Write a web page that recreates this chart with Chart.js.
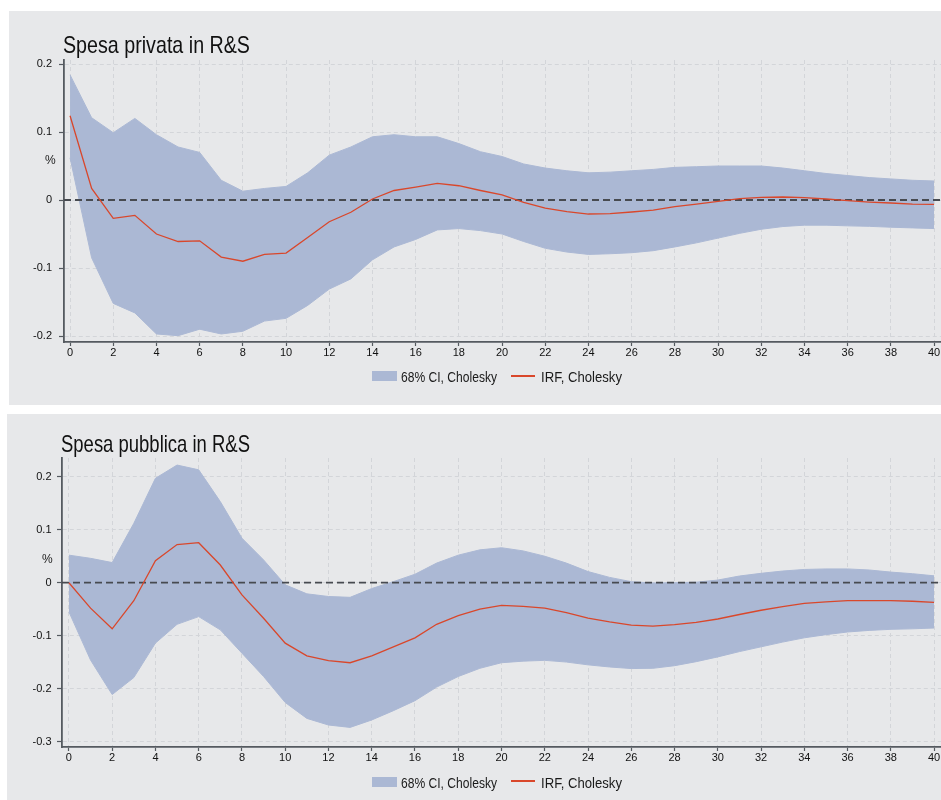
<!DOCTYPE html>
<html lang="it">
<head>
<meta charset="utf-8">
<title>IRF - Spesa in R&amp;S</title>
<script src="https://cdn.jsdelivr.net/npm/chart.js@4.4.1/dist/chart.umd.min.js"></script>
<style>
    html, body { margin: 0; padding: 0; background: #fff; }
    body { position: relative; width: 941px; height: 800px; overflow: hidden; font-family: "Liberation Sans", Arial, sans-serif; color: #111; }
    .panel { position: absolute; background: #e7e8ea; }
    .panel canvas { position: absolute; left: 0; top: 0; }
    .txt { position: absolute; white-space: nowrap; transform-origin: 0 0; }
    .title { font-size: 24px; line-height: 24px; color: #111; }
    .unit { font-size: 12px; line-height: 12px; color: #222; }
    .leg { font-size: 14.4px; line-height: 14px; color: #1a1a1a; }
    .leg-box { position: absolute; width: 25px; height: 10px; background: #abb8d4; }
    .leg-line { position: absolute; width: 24px; height: 1.5px; background: #d9472b; }
</style>
</head>
<body>

<div class="panel" id="panelPriv" style="left:9px; top:11px; width:932px; height:394px;">
    <canvas id="chartPriv" width="932" height="394"></canvas>
</div>
<div class="panel" id="panelPub" style="left:7px; top:414px; width:934px; height:386px;">
    <canvas id="chartPub" width="934" height="386"></canvas>
</div>

<!-- testi sovrapposti -->
<div class="txt title" data-fit="187" style="left:63px; top:33px;">Spesa privata in R&amp;S</div>
<div class="txt unit" style="left:45px; top:154px;">%</div>
<div class="leg-box" style="left:372px; top:371px;"></div>
<div class="txt leg" data-fit="96" style="left:401px; top:370px;">68% CI, Cholesky</div>
<div class="leg-line" style="left:511px; top:375px;"></div>
<div class="txt leg" data-fit="81" style="left:541px; top:370px;">IRF, Cholesky</div>

<div class="txt title" data-fit="189" style="left:61px; top:432px;">Spesa pubblica in R&amp;S</div>
<div class="txt unit" style="left:42px; top:553px;">%</div>
<div class="leg-box" style="left:372px; top:776.5px;"></div>
<div class="txt leg" data-fit="96" style="left:401px; top:775.5px;">68% CI, Cholesky</div>
<div class="leg-line" style="left:511px; top:780px;"></div>
<div class="txt leg" data-fit="81" style="left:541px; top:775.5px;">IRF, Cholesky</div>

<script>
// orizzonti (periodi)
const horizons = [0, 1, 2, 3, 4, 5, 6, 7, 8, 9, 10, 11, 12, 13, 14, 15, 16, 17, 18, 19, 20,
    21, 22, 23, 24, 25, 26, 27, 28, 29, 30, 31, 32, 33, 34, 35, 36, 37, 38, 39, 40];

// Spesa privata in R&S
const privUpper = [0.184, 0.121, 0.099, 0.120, 0.096, 0.078, 0.070, 0.029, 0.013, 0.017, 0.020,
    0.040, 0.066, 0.078, 0.093, 0.096, 0.093, 0.093, 0.083, 0.071, 0.064,
    0.053, 0.047, 0.043, 0.040, 0.041, 0.043, 0.045, 0.048, 0.049, 0.050,
    0.050, 0.050, 0.047, 0.043, 0.039, 0.036, 0.033, 0.031, 0.029, 0.028];
const privIrf = [0.124, 0.017, -0.027, -0.0225, -0.050, -0.061, -0.060, -0.084, -0.090, -0.080, -0.078,
    -0.055, -0.032, -0.018, 0.0015, 0.014, 0.019, 0.0245, 0.021, 0.014, 0.0074,
    -0.0034, -0.012, -0.017, -0.0206, -0.020, -0.0176, -0.015, -0.0098, -0.0059, -0.002,
    0.002, 0.004, 0.0044, 0.0034, 0.0015, -0.001, -0.003, -0.0044, -0.006, -0.0064];
const privLower = [0.062, -0.085, -0.152, -0.166, -0.197, -0.1995, -0.190, -0.197, -0.193, -0.178, -0.174,
    -0.155, -0.131, -0.116, -0.088, -0.069, -0.058, -0.044, -0.042, -0.045, -0.050,
    -0.061, -0.071, -0.0765, -0.080, -0.079, -0.0775, -0.0745, -0.069, -0.063, -0.056,
    -0.049, -0.043, -0.039, -0.037, -0.037, -0.038, -0.0387, -0.040, -0.041, -0.042];

// Spesa pubblica in R&S
const pubUpper = [0.052, 0.046, 0.038, 0.112, 0.197, 0.222, 0.213, 0.153, 0.084, 0.043, -0.004,
    -0.021, -0.026, -0.0276, -0.011, 0.002, 0.016, 0.037, 0.052, 0.062, 0.066,
    0.060, 0.050, 0.037, 0.021, 0.010, 0.002, -0.0006, 0.0, 0.001, 0.005,
    0.0126, 0.0177, 0.022, 0.025, 0.026, 0.026, 0.024, 0.020, 0.017, 0.013];
const pubIrf = [0, -0.048, -0.087, -0.034, 0.0415, 0.072, 0.0755, 0.0334, -0.023, -0.067, -0.114,
    -0.138, -0.147, -0.151, -0.138, -0.121, -0.104, -0.0785, -0.062, -0.050, -0.0427,
    -0.0445, -0.048, -0.0566, -0.067, -0.074, -0.080, -0.082, -0.079, -0.075, -0.0685,
    -0.060, -0.052, -0.045, -0.039, -0.036, -0.034, -0.034, -0.034, -0.035, -0.037];
const pubLower = [-0.055, -0.146, -0.211, -0.179, -0.114, -0.0785, -0.064, -0.089, -0.133, -0.177, -0.226,
    -0.256, -0.2685, -0.273, -0.259, -0.2415, -0.2226, -0.197, -0.177, -0.1615, -0.151,
    -0.148, -0.1465, -0.1497, -0.155, -0.159, -0.162, -0.1615, -0.1566, -0.149, -0.140,
    -0.130, -0.121, -0.112, -0.104, -0.098, -0.093, -0.090, -0.088, -0.087, -0.0855];

// etichette degli assi
const xTicks = [0, 2, 4, 6, 8, 10, 12, 14, 16, 18, 20, 22, 24, 26, 28, 30, 32, 34, 36, 38, 40];
const privYTicks = [-0.2, -0.1, 0, 0.1, 0.2];
const pubYTicks = [-0.3, -0.2, -0.1, 0, 0.1, 0.2];

const BAND = '#abb8d4';
const IRF_RED = '#d9472b';
const AXIS = '#555a60';
const GRID = '#d3d5d9';
const TICK_FONT = { family: '"Liberation Sans", Arial, sans-serif', size: 11 };

// linea tratteggiata sullo zero, tra la banda e la IRF
const zeroLine = {
    id: 'zeroLine',
    afterDatasetDraw(chart, args) {
        if (args.index !== 1) return;
        const { ctx, chartArea } = chart;
        const y = chart.scales.y.getPixelForValue(0);
        ctx.save();
        ctx.strokeStyle = '#474a50';
        ctx.lineWidth = 1.8;
        ctx.setLineDash([7, 4]);
        ctx.beginPath();
        ctx.moveTo(chartArea.left, y);
        ctx.lineTo(chartArea.right, y);
        ctx.stroke();
        ctx.restore();
    }
};

function toPoints(values) {
    return values.map((v, i) => ({ x: horizons[i], y: v }));
}

function buildChart(canvasId, cfg) {
    const ctx = document.getElementById(canvasId).getContext('2d');
    return new Chart(ctx, {
        type: 'line',
        data: {
            datasets: [
                {
                    label: '68% CI, Cholesky',
                    data: toPoints(cfg.upper),
                    borderColor: BAND,
                    borderWidth: 1,
                    backgroundColor: BAND,
                    fill: '+1',
                    pointRadius: 0,
                    tension: 0,
                    order: 2
                },
                {
                    label: 'lower',
                    data: toPoints(cfg.lower),
                    borderColor: BAND,
                    borderWidth: 1,
                    fill: false,
                    pointRadius: 0,
                    tension: 0,
                    order: 1
                },
                {
                    label: 'IRF, Cholesky',
                    data: toPoints(cfg.irf),
                    borderColor: IRF_RED,
                    borderWidth: 1.3,
                    fill: false,
                    pointRadius: 0,
                    tension: 0,
                    order: 0
                }
            ]
        },
        options: {
            responsive: false,
            animation: false,
            events: [],
            layout: { padding: { left: 0, right: 0, top: cfg.top, bottom: 0 } },
            plugins: {
                legend: { display: false },
                tooltip: { enabled: false },
                title: { display: false }
            },
            scales: {
                x: {
                    type: 'linear',
                    min: cfg.xMin,
                    max: cfg.xMax,
                    afterBuildTicks: s => { s.ticks = xTicks.map(v => ({ value: v })); },
                    afterFit: s => { s.height = cfg.xAxisHeight; s.paddingLeft = 0; s.paddingRight = 0; },
                    grid: { color: GRID, lineWidth: 1, tickColor: AXIS, tickLength: 4, tickWidth: 1.2, tickBorderDash: [] },
                    border: { color: AXIS, width: 1.8, dash: [4, 3] },
                    ticks: { font: TICK_FONT, color: '#111', padding: 0, maxRotation: 0, autoSkip: false,
                        callback: v => String(v) }
                },
                y: {
                    type: 'linear',
                    min: cfg.yMin,
                    max: cfg.yMax,
                    afterBuildTicks: s => { s.ticks = cfg.yTicks.map(v => ({ value: v })); },
                    afterFit: s => { s.width = cfg.yAxisWidth; s.paddingTop = 0; s.paddingBottom = 0; },
                    grid: { color: GRID, lineWidth: 1, tickColor: AXIS, tickLength: 5, tickWidth: 1.2, tickBorderDash: [] },
                    border: { color: AXIS, width: 1.8, dash: [4, 3] },
                    ticks: { font: TICK_FONT, color: '#111', padding: cfg.yPad, autoSkip: false,
                        callback: v => String(v) }
                }
            }
        },
        plugins: [zeroLine]
    });
}

// adatta la larghezza dei testi (font stretto come nell'originale)
function fitTexts() {
    document.querySelectorAll('[data-fit]').forEach(el => {
        const target = parseFloat(el.dataset.fit);
        const w = el.getBoundingClientRect().width;
        if (w > 0) el.style.transform = `scaleX(${target / w})`;
    });
}

document.addEventListener('DOMContentLoaded', () => {
    fitTexts();

    buildChart('chartPriv', {
        upper: privUpper, lower: privLower, irf: privIrf, yTicks: privYTicks,
        xMin: -0.28, xMax: 40.32, yMin: -0.2088, yMax: 0.2059,
        top: 49, xAxisHeight: 63, yAxisWidth: 55, yPad: 7
    });

    buildChart('chartPub', {
        upper: pubUpper, lower: pubLower, irf: pubIrf, yTicks: pubYTicks,
        xMin: -0.32, xMax: 40.32, yMin: -0.310, yMax: 0.2353,
        top: 44, xAxisHeight: 53, yAxisWidth: 55, yPad: 5.5
    });
});
</script>
</body>
</html>
